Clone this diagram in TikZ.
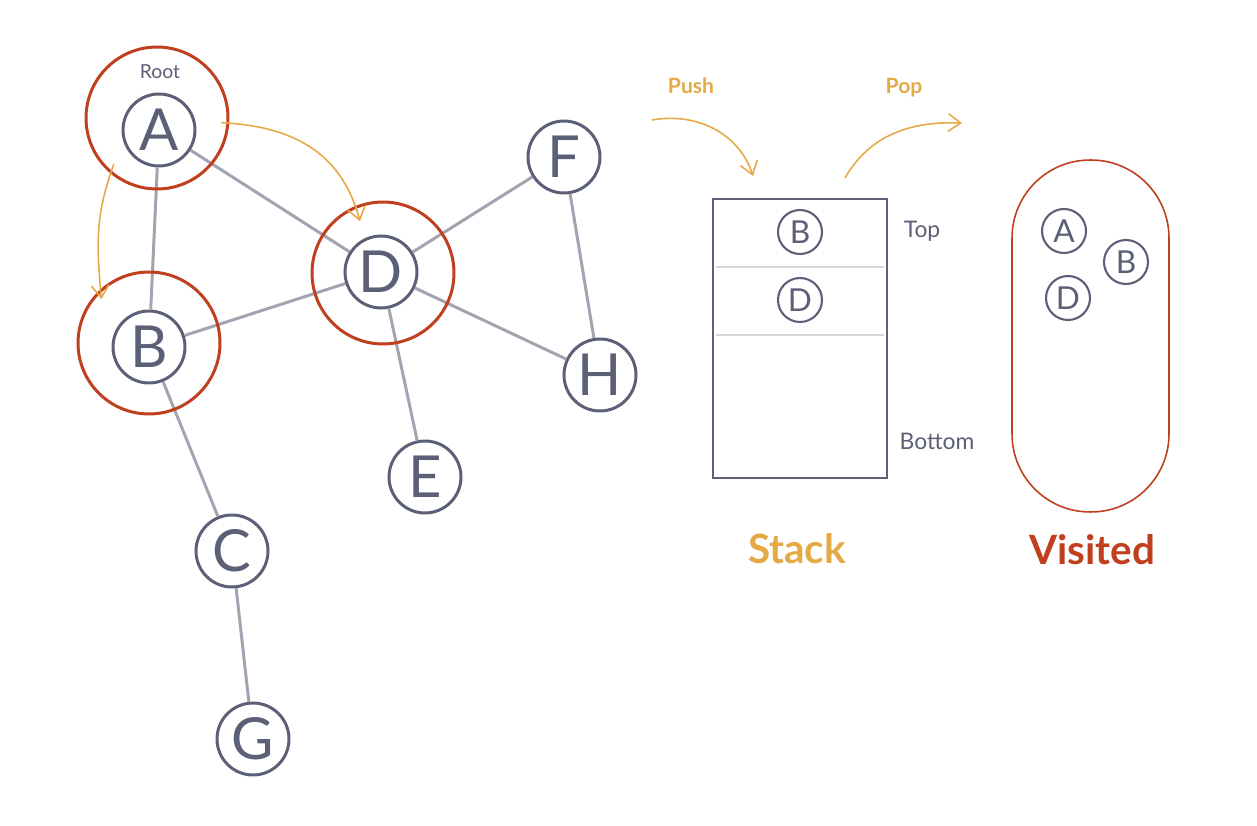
\documentclass[tikz,border=0pt]{standalone}
\usepackage{fontspec}
\setmainfont{Lato}
\usetikzlibrary{arrows.meta}
\definecolor{DFSNode}{HTML}{5C6076}
\definecolor{DFSEdge}{HTML}{A3A3B1}
\definecolor{DFSRed}{HTML}{BF3F1F}
\definecolor{DFSOrange}{HTML}{E5AA45}
\definecolor{DFSLine}{HTML}{D5D5DC}

\begin{document}
\begin{tikzpicture}[x=0.02cm,y=0.02cm,
  vertex/.style={circle,draw=DFSNode,line width=1.7pt,fill=white,minimum size=1.44cm,inner sep=0pt,text=DFSNode,font=\fontsize{33}{36}\selectfont},
  ring/.style={circle,draw=DFSRed,line width=1.7pt,minimum size=2.84cm,inner sep=0pt},
  item/.style={circle,draw=DFSNode,line width=1.2pt,fill=white,minimum size=0.88cm,inner sep=0pt,text=DFSNode,font=\fontsize{18}{20}\selectfont},
  edge/.style={DFSEdge,line width=1.7pt},
  move/.style={DFSOrange,line width=0.9pt,-{Straight Barb[length=7pt,width=10pt]}},
  tag/.style={text=DFSNode,font=\fontsize{13}{15}\selectfont},
  title/.style={font=\fontsize{23}{26}\selectfont\bfseries}]
\path[use as bounding box] (0,0) rectangle (1257,825);
% graph
\node[vertex] (A) at (159,695) {A};
\node[vertex] (B) at (149,478) {B};
\node[vertex] (C) at (232,274) {C};
\node[vertex] (D) at (381,553) {D};
\node[vertex] (E) at (425,348) {E};
\node[vertex] (F) at (564,668) {F};
\node[vertex] (G) at (253,86) {G};
\node[vertex] (H) at (600,450) {H};
\node[text=DFSNode,font=\fontsize{11}{13}\selectfont] (root) at (160,753) {Root};
\foreach \u/\v in {A/B,A/D,B/D,B/C,C/G,D/F,D/H,D/E,F/H}
  \draw[edge] (\u) -- (\v);
% visited rings
\node[ring] (ringA) at (157,707) {};
\node[ring] (ringB) at (149,482) {};
\node[ring] (ringD) at (383,552) {};
\draw[move,shorten <=-0.2cm,shorten >=-0.2cm] (ringA.230) to[out=250,in=95] (ringB.132);
\draw[move,shorten <=-0.16cm,shorten >=-0.32cm] (ringA.-4) to[out=-3,in=105] (ringD.112);
% stack
\node[draw=DFSNode,line width=0.9pt,minimum width=3.48cm,minimum height=5.58cm,inner sep=0pt] (stack) at (800,486.5) {};
\draw[DFSLine,line width=0.8pt] (716,558) -- (884,558);
\draw[DFSLine,line width=0.8pt] (716,490) -- (884,490);
\node[item] (sB) at (800,593) {B};
\node[item] (sD) at (800,525) {D};
\node[tag] (top) at (922,594) {Top};
\node[tag] (bottom) at (937,384) {Bottom};
\node[title,text=DFSOrange] (stacklabel) at (797,276) {Stack};
\node[text=DFSOrange,font=\fontsize{12}{14}\selectfont\bfseries] (push) at (691,739) {Push};
\node[text=DFSOrange,font=\fontsize{12}{14}\selectfont\bfseries] (pop) at (904,737) {Pop};
\coordinate (pushFrom) at (652,705);
\coordinate (pushTo) at (753,649);
\coordinate (popFrom) at (845,647);
\coordinate (popTo) at (962,702);
\draw[move] (pushFrom) to[out=10,in=108] (pushTo);
\draw[move] (popFrom) to[out=60,in=178] (popTo);
% visited set
\node[draw=DFSRed,line width=0.9pt,minimum width=3.14cm,minimum height=7.04cm,rounded corners=1.56cm,inner sep=0pt] (visited) at (1090.5,489) {};
\node[item] (vA) at (1064,594) {A};
\node[item] (vB) at (1126,563) {B};
\node[item] (vD) at (1068,527) {D};
\node[title,text=DFSRed] (visitedlabel) at (1092,275) {Visited};
\end{tikzpicture}
\end{document}
